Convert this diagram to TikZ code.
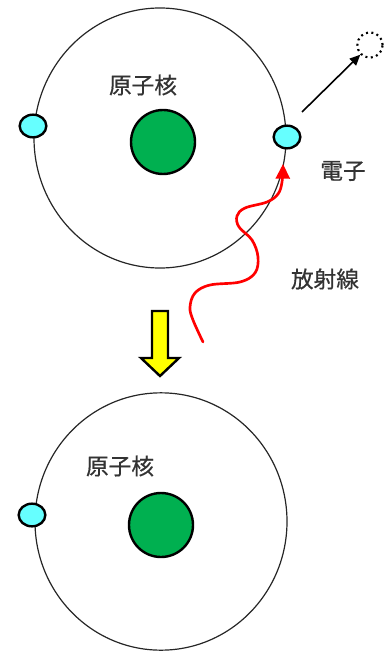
\documentclass[tikz,border=0pt]{standalone}
\usepackage{fontspec}
\newfontfamily\cjk[FakeBold=0.6]{Noto Sans CJK JP}
\usetikzlibrary{arrows.meta,shapes.geometric}
\definecolor{nucgreen}{HTML}{00B050}
\definecolor{elcyan}{HTML}{66FFFF}
\definecolor{rayred}{HTML}{FF0000}
\definecolor{arrowyellow}{HTML}{FFFF00}
\begin{document}
\begin{tikzpicture}[x=0.75pt,y=-0.75pt,
  orbit/.style={draw=black!85,line width=0.9pt},
  nucleus/.style={circle,draw=black,line width=1.8pt,fill=nucgreen,minimum size=48pt,inner sep=0pt},
  electron/.style={ellipse,draw=black,line width=1.8pt,fill=elcyan,minimum width=20pt,minimum height=17pt,inner sep=0pt},
  ghost/.style={circle,draw=black,line width=1.6pt,dash pattern=on 1.5pt off 2.6pt,minimum size=19pt,inner sep=0pt},
  label/.style={font=\cjk\fontsize{17pt}{20pt}\selectfont,text=black!80,inner sep=0pt},
  ray/.style={draw=rayred,line width=2pt,line cap=round,-{Triangle[length=11pt,width=10.5pt]}},
  kick/.style={draw=black,line width=1.2pt,-{Triangle[length=8pt,width=7pt]}}
]
\useasboundingbox (0,0) rectangle (388,652);

% --- atom before irradiation ---
\draw[orbit] (160,138) ellipse [x radius=94.5pt,y radius=97.5pt];
\node[nucleus] (nucA) at (163,142) {};
\node[electron] (elA1) at (33,126) {};
\node[electron] (elA2) at (287,137) {};
\node[label] (labNucA) at (143,85) {原子核};
\node[label] (labEl) at (343,171) {電子};
\node[label] (labRay) at (325,279) {放射線};

% ejected electron
\node[ghost] (ghost) at (370,45) {};
\coordinate (kickStart) at (302,112);
\draw[kick] (kickStart) -- (ghost.south west);

% incoming radiation, a wavy path ending under the outer electron
\draw[ray] plot[smooth,tension=0.6] coordinates {(203,342) (193,320) (190,307) (195,293) (210,285) (240,282) (255,273) (258,257) (252,240) (239,227) (237,216) (245,208) (267,202) (278,194) (282,182) (283,164)};

% transition arrow
\draw[line width=1.8pt,fill=arrowyellow,line join=miter]
  (152,311) -- (168,311) -- (168,358) -- (179,358) -- (160,376) -- (141,358) -- (152,358) -- cycle;

% --- atom after irradiation ---
\draw[orbit] (161,521.5) ellipse [x radius=94.5pt,y radius=96.5pt];
\node[nucleus] (nucB) at (161,525) {};
\node[electron] (elB1) at (32,515) {};
\node[label] (labNucB) at (120,466) {原子核};
\end{tikzpicture}
\end{document}
